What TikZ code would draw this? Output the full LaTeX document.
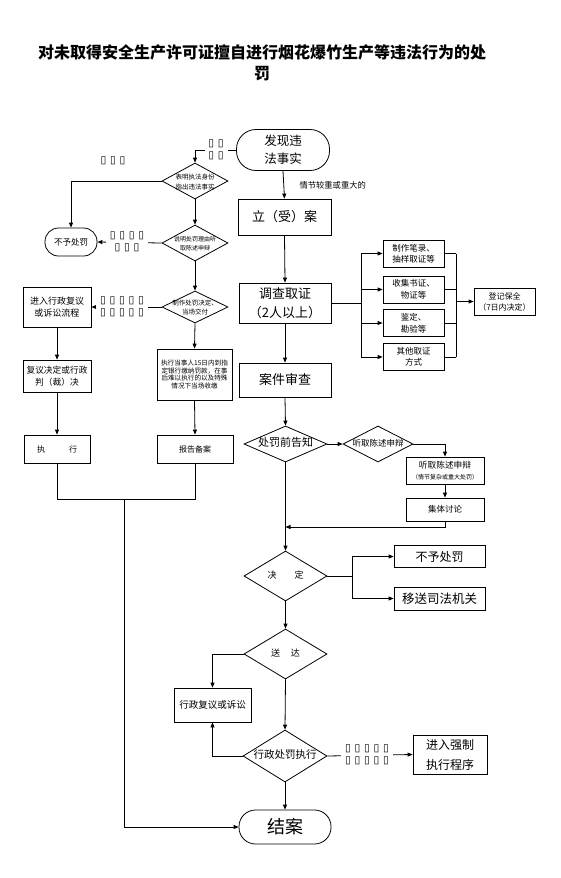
\documentclass[tikz,border=0pt]{standalone}
\usepackage{fontspec}
\newfontfamily\cjk{Noto Sans CJK SC}
\newfontfamily\dv{DejaVu Sans}
\usetikzlibrary{shapes.geometric,arrows.meta}
\newcommand\fsz[2]{\fontsize{#1pt}{#2pt}\selectfont}
\newcommand\zb[1]{\raisebox{-2.5pt}[0pt][0pt]{\makebox[0pt]{\begin{tabular}{@{}c@{}}#1\end{tabular}}}}
\newcommand\T{\makebox[9.5pt]{▯}}
\tikzset{
  box/.style={draw, line width=0.8pt, rectangle, inner sep=1pt, align=center},
  term/.style={box, rounded corners=#1},
  dia/.style={draw, diamond, inner sep=0pt, line width=0.8pt},
  arr/.style={-{Triangle[length=5pt,width=4pt]}, line width=0.8pt},
  ln/.style={line width=0.8pt},
  tofu/.style={fill=white, inner sep=2pt, font=\dv\fsz{10.5}{12}, align=center},
}
\begin{document}
\begin{tikzpicture}[x=1pt,y=-1pt]
\useasboundingbox[fill=white] (0,0) rectangle (560,878);
% title
\node[font=\cjk\bfseries\fsz{16}{21}, align=center] (title) at (262,63)
  {对未取得安全生产许可证擅自进行烟花爆竹生产等违法行为的处\\罚};
% right column
\node[term=19.5pt, minimum width=93pt, minimum height=41pt, font=\cjk\fsz{12.5}{18}] (start) at (283,150) {发现违\\法事实};
\node[anchor=west, font=\cjk\fsz{8.3}{10}] (ql) at (296,185) {情节较重或重大的};
\node[box, minimum width=93pt, minimum height=36pt, font=\cjk\fsz{13}{16}] (la) at (284.5,217) {立（受）案};
\node[box, minimum width=92pt, minimum height=40pt, font=\cjk\fsz{13}{19}] (dc) at (285,303) {调查取证\\（2人以上）};
\node[box, minimum width=92pt, minimum height=34pt, font=\cjk\fsz{13}{16}] (sc) at (285,380) {案件审查};
\node[box, minimum width=61pt, minimum height=27pt, font=\cjk\fsz{8.5}{11.5}] (b1) at (413.5,253.5) {制作笔录、\\抽样取证等};
\node[box, minimum width=61pt, minimum height=27pt, font=\cjk\fsz{8.5}{11.5}] (b2) at (413.5,289.5) {收集书证、\\物证等};
\node[box, minimum width=61pt, minimum height=27pt, font=\cjk\fsz{8.5}{11.5}] (b3) at (413.5,323) {鉴定、\\勘验等};
\node[box, minimum width=61pt, minimum height=27pt, font=\cjk\fsz{8.5}{11.5}] (b4) at (413.5,357) {其他取证\\方式};
\node[box, minimum width=61pt, minimum height=27pt, font=\cjk\fsz{8}{11}] (dj) at (504.5,301.5) {登记保全\\（7日内决定）};
\coordinate (bx) at (361,303);
\coordinate (cx) at (456,301.5);
\node[dia, minimum width=83pt, minimum height=36pt, font=\cjk\fsz{11}{13}] (gz) at (285.5,444) {\zb{处罚前告知}};
\node[dia, minimum width=70pt, minimum height=36pt, font=\cjk\fsz{8.5}{10}] (tq) at (378,444) {\zb{听取陈述申辩}};
\node[box, minimum width=78pt, minimum height=27pt, font=\cjk\fsz{8.7}{11}] (tb) at (445,470.5) {听取陈述申辩\\{\fsz{6}{8}（情节复杂或重大处罚）}};
\node[box, minimum width=78pt, minimum height=23pt, font=\cjk\fsz{8.5}{10}] (jt) at (445,509.5) {集体讨论};
\coordinate (m1) at (285.5,527);
\node[dia, minimum width=83pt, minimum height=50pt, font=\cjk\fsz{9}{11}] (jd) at (285.5,576) {\zb{决\hspace{2em}定}};
\coordinate (jx) at (352,576);
\node[box, minimum width=91pt, minimum height=22pt, font=\cjk\fsz{12}{14}] (np) at (439.5,556.5) {不予处罚};
\node[box, minimum width=91pt, minimum height=23pt, font=\cjk\fsz{12.5}{14}] (ys) at (439.5,598.5) {移送司法机关};
\node[dia, minimum width=83pt, minimum height=50pt, font=\cjk\fsz{9}{11}] (sd) at (285.5,654) {\zb{送\hspace{1.2em}达}};
\node[box, minimum width=77pt, minimum height=34pt, font=\cjk\fsz{9.5}{11}] (xf) at (212.5,705) {行政复议或诉讼};
\node[dia, minimum width=84pt, minimum height=52pt, font=\cjk\fsz{10.5}{12}] (zx) at (285,756) {\zb{行政处罚执行}};
\node[box, minimum width=74pt, minimum height=39pt, font=\cjk\fsz{12}{20}] (qz) at (450,754.5) {进入强制\\执行程序};
\node[term=16.5pt, minimum width=92pt, minimum height=34pt, font=\cjk\fsz{18}{20}] (ja) at (285,827) {结案};
% left column
\node[dia, minimum width=66pt, minimum height=36pt, font=\cjk\fsz{6.5}{10}] (d1) at (195,181) {\zb{表明执法身份\\指出违法事实}};
\node[term=13.5pt, minimum width=52pt, minimum height=28pt, font=\cjk\fsz{8.5}{10}] (bz) at (71,242) {不予处罚};
\node[dia, minimum width=66pt, minimum height=36pt, font=\cjk\fsz{6}{9}] (d2) at (195,243) {\zb{说明处罚理由听\\取陈述申辩}};
\node[dia, minimum width=66pt, minimum height=32pt, font=\cjk\fsz{6.5}{9.5}] (d3) at (195,307) {\zb{制作处罚决定、\\当场交付}};
\node[box, minimum width=68pt, minimum height=40pt, font=\cjk\fsz{9}{12}] (fx) at (57,307) {进入行政复议\\或诉讼流程};
\node[box, minimum width=68pt, minimum height=32pt, font=\cjk\fsz{8.7}{12}] (pj) at (57,376) {复议决定或行政\\判（裁）决};
\node[box, minimum width=66pt, minimum height=28pt, font=\cjk\fsz{8}{10}] (zx1) at (57,449) {执\hspace{3em}行};
\node[box, minimum width=75pt, minimum height=51pt, inner sep=0pt, font=\cjk\fsz{6.6}{7.4}] (jk) at (194.5,374.5) {执行当事人15日内到指\\定银行缴纳罚款，在事\\后难以执行的以及特殊\\情况下当场收缴};
\node[box, minimum width=76pt, minimum height=28pt, font=\cjk\fsz{8}{10}] (bb) at (195,449) {报告备案};
\coordinate (jm) at (124,499);
% connectors right
\draw[arr] (start.south) -- (la.north);
\draw[arr] (la.south) -- (dc.north);
\draw[arr] (dc.south) -- (sc.north);
\draw[ln] (dc.east) -- (bx);
\draw[ln] (b1.west -| bx) -- (b4.west -| bx);
\foreach \b in {b1,b2,b3,b4} {
  \draw[arr] (\b.west -| bx) -- (\b.west);
  \draw[ln] (\b.east) -- (\b.east -| cx);
}
\draw[ln] (b1.east -| cx) -- (b4.east -| cx);
\draw[arr] (cx) -- (dj.west);
\draw[arr] (sc.south) -- (gz.north);
\draw[arr] (gz.east) -- (tq.west);
\draw[arr] (tq.east) -| (tb.north);
\draw[arr] (tb.south) -- (jt.north);
\draw[arr] (jt.south) |- (m1);
\draw[arr] (gz.south) -- (jd.north);
\draw[ln] (jd.east) -- (jx);
\draw[arr] (jx) |- (np.west);
\draw[arr] (jx) |- (ys.west);
\draw[arr] (jd.south) -- (sd.north);
\draw[arr] (sd.west) -| (xf.north);
\draw[arr] (sd.south) -- (zx.north);
\draw[arr] (zx.west) -| (xf.south);
\draw[arr] (zx.east) -- (qz.west);
\draw[arr] (zx.south) -- (ja.north);
% connectors left
\draw[arr] (start.west) -| (d1.north);
\draw[arr] (d1.west) -| (bz.north);
\draw[arr] (d1.south) -- (d2.north);
\draw[arr] (d2.west) -- (bz.east);
\draw[arr] (d2.south) -- (d3.north);
\draw[arr] (d3.west) -- (fx.east);
\draw[arr] (fx.south) -- (pj.north);
\draw[arr] (pj.south) -- (zx1.north);
\draw[arr] (d3.south) -- (jk.north);
\draw[arr] (jk.south) -- (bb.north);
\draw[ln] (zx1.south) |- (bb.south |- jm) -- (bb.south);
\draw[arr] (jm) |- (ja.west);
% missing-glyph labels
\node[tofu] (t1) at (216,150) {\T\T\\\T\T};
\node[tofu, fill=none] (t2) at (113,161) {\T\T\T};
\node[tofu] (t3) at (127,242) {\T\T\T\T\\\T\T\T};
\node[tofu] (t4) at (122,307) {\T\T\T\T\T\\\T\T\T\T\T};
\node[tofu] (t5) at (367,754.5) {\T\T\T\T\T\\\T\T\T\T\T};
\end{tikzpicture}
\end{document}
